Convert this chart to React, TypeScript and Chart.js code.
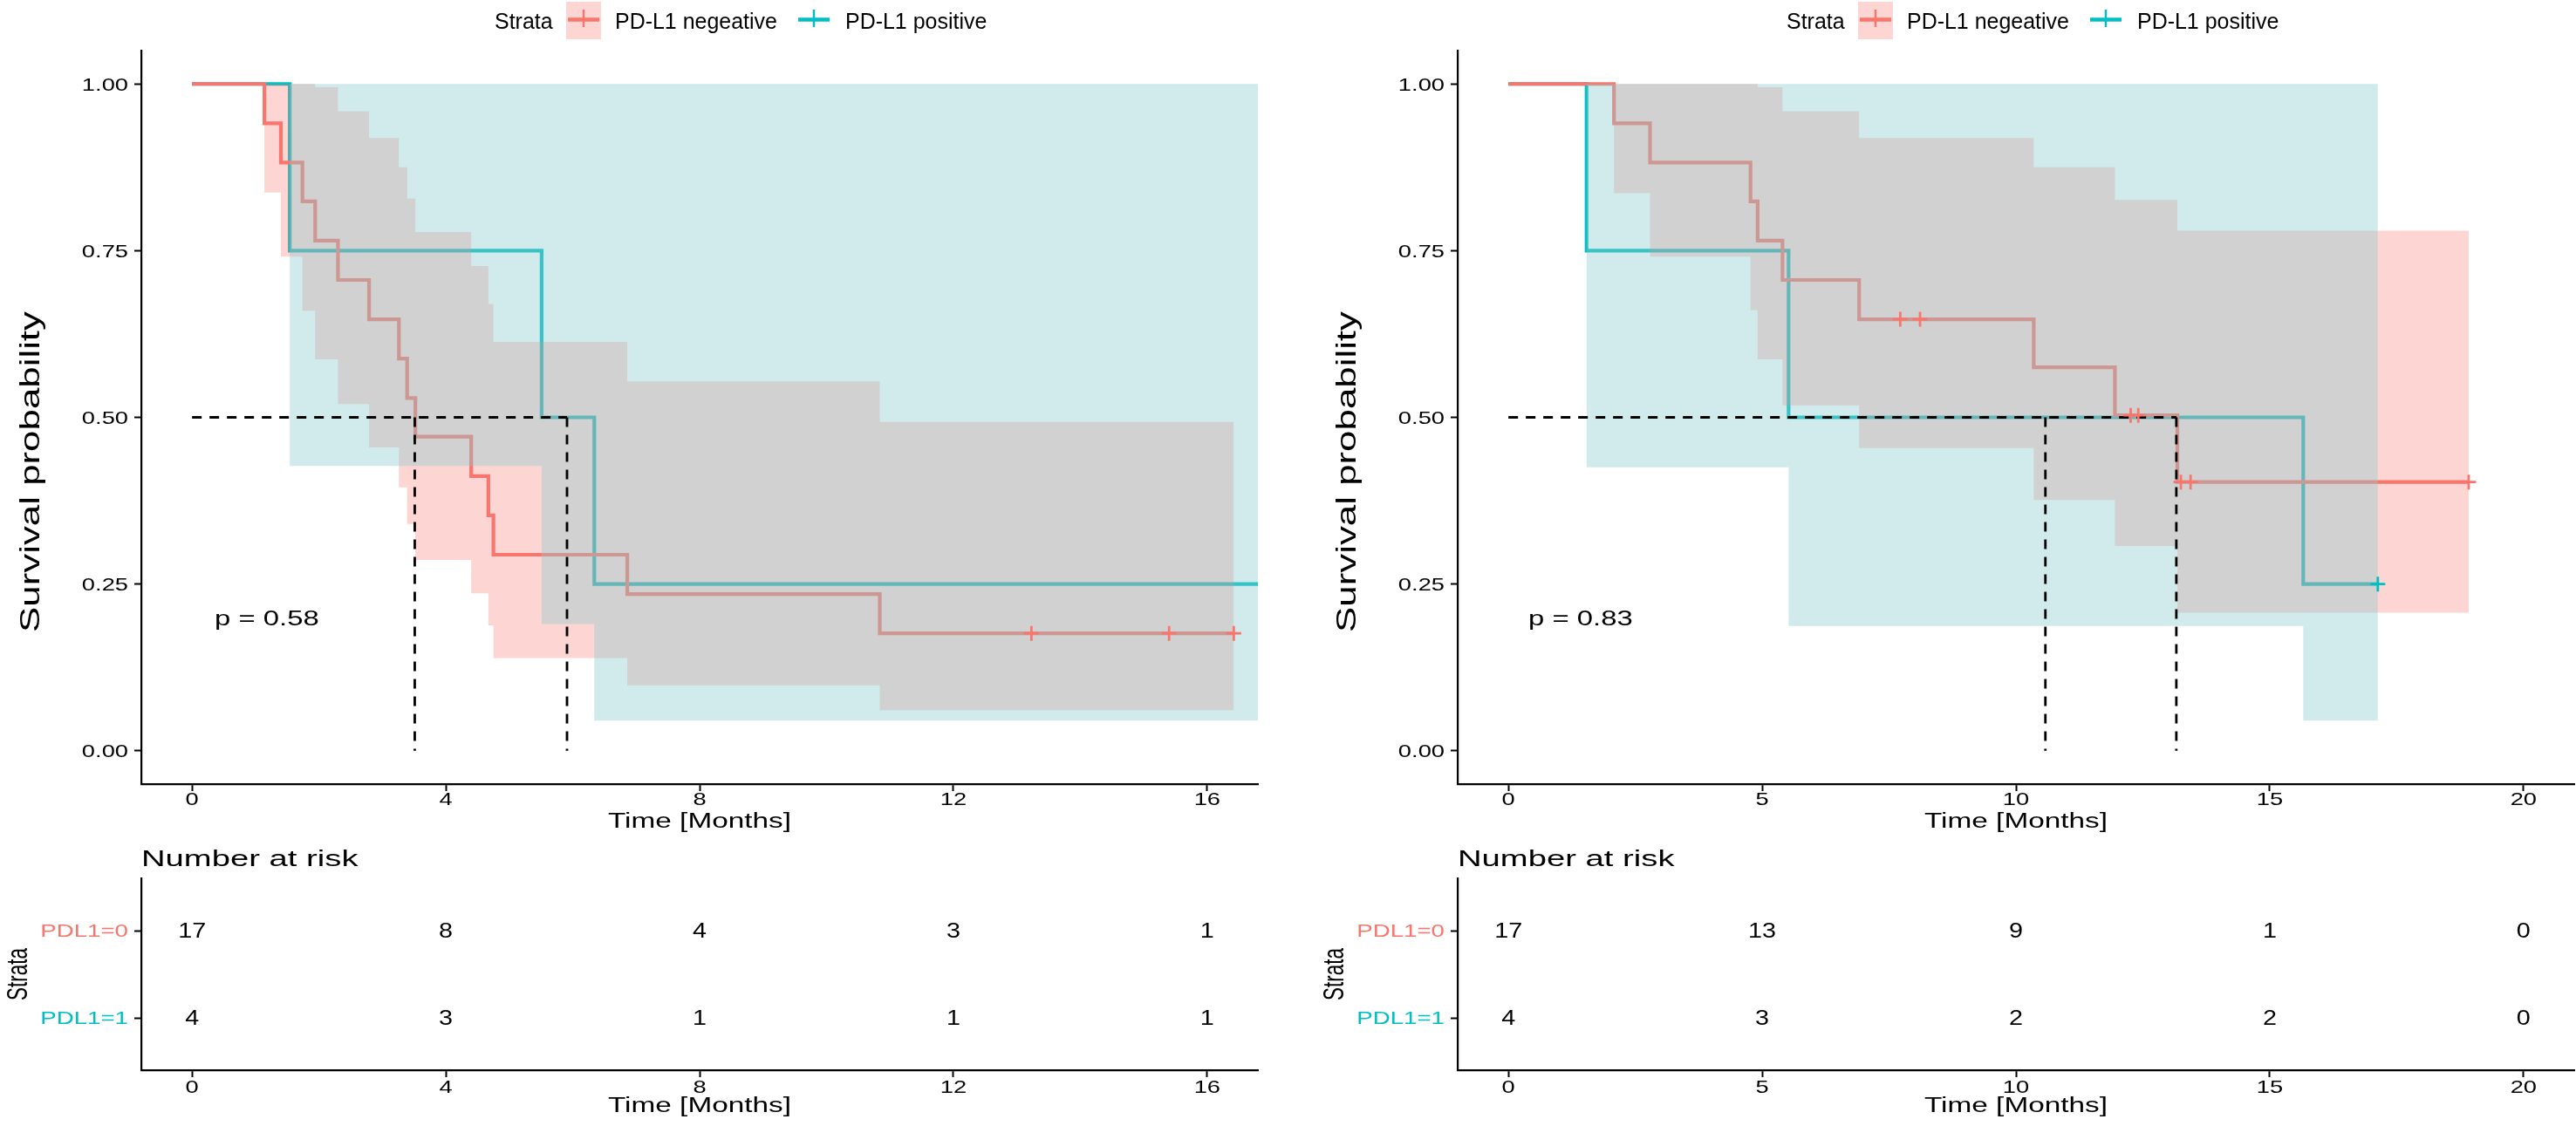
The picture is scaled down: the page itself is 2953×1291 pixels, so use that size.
import React, { useEffect, useRef } from "react";
import { Chart, registerables } from "chart.js";

Chart.register(...registerables);

const RED = "#F8766D";
const TEAL = "#00BFC4";
const PINK_BAND = "rgba(248, 118, 109, 0.3)";
const TEAL_BAND = "rgba(140, 203, 204, 0.4)";
const FONT = '"Liberation Sans", Arial, sans-serif';

const strataLabels = ["PD-L1 negeative", "PD-L1 positive"];
const riskLabels = ["PDL1=0", "PDL1=1"];

// left panel
const ticksA = [0, 4, 8, 12, 16];
const negTimesA = [0, 1.14, 1.4, 1.74, 1.94, 2.3, 2.79, 3.26, 3.39, 3.52, 4.4, 4.67, 4.75, 6.86, 10.84, 16.42];
const negSurvA = [1, 0.941, 0.882, 0.824, 0.765, 0.706, 0.647, 0.588, 0.529, 0.471, 0.412, 0.353, 0.294, 0.235, 0.176, 0.176];
const negUpperA = [1, 1, 1, 1, 0.995, 0.959, 0.919, 0.875, 0.828, 0.778, 0.727, 0.67, 0.613, 0.554, 0.493, 0.493];
const negLowerA = [1, 0.837, 0.741, 0.66, 0.587, 0.52, 0.455, 0.395, 0.34, 0.286, 0.236, 0.188, 0.139, 0.098, 0.061, 0.061];
const negCensorA = [13.23, 15.4, 16.42];
const posTimesA = [0, 1.54, 5.51, 6.34, 16.8];
const posSurvA = [1, 0.75, 0.5, 0.25, 0.25];
const posUpperA = [1, 1, 1, 1, 1];
const posLowerA = [1, 0.427, 0.19, 0.045, 0.045];
const posCensorA: number[] = [];
const mediansA = [3.51, 5.91];
const riskTimesA = [0, 4, 8, 12, 16];
const riskNegA = [17, 8, 4, 3, 1];
const riskPosA = [4, 3, 1, 1, 1];

// right panel
const ticksB = [0, 5, 10, 15, 20];
const negTimesB = [0, 2.08, 2.79, 4.77, 4.91, 5.4, 6.91, 10.35, 11.95, 13.18, 18.92];
const negSurvB = [1, 0.941, 0.882, 0.824, 0.765, 0.706, 0.647, 0.575, 0.503, 0.403, 0.403];
const negUpperB = [1, 1, 1, 1, 0.995, 0.959, 0.919, 0.875, 0.826, 0.78, 0.78];
const negLowerB = [1, 0.836, 0.741, 0.661, 0.587, 0.518, 0.454, 0.376, 0.307, 0.207, 0.207];
const negCensorB = [7.72, 8.11, 12.26, 12.41, 13.25, 13.44, 18.92];
const posTimesB = [0, 1.54, 5.52, 15.66, 17.13];
const posSurvB = [1, 0.75, 0.5, 0.25, 0.25];
const posUpperB = [1, 1, 1, 1, 1];
const posLowerB = [1, 0.425, 0.187, 0.045, 0.045];
const posCensorB = [17.13];
const mediansB = [10.58, 13.16];
const riskTimesB = [0, 5, 10, 15, 20];
const riskNegB = [17, 13, 9, 1, 0];
const riskPosB = [4, 3, 2, 2, 0];

type Pt = { x: number; y: number };

interface Panel {
  xMin: number;
  xMax: number;
  ticks: number[];
  negTimes: number[];
  negSurv: number[];
  negUpper: number[];
  negLower: number[];
  negCensor: number[];
  posTimes: number[];
  posSurv: number[];
  posUpper: number[];
  posLower: number[];
  posCensor: number[];
  medians: number[];
  riskTimes: number[];
  riskNeg: number[];
  riskPos: number[];
  pText: string;
  pX: number;
  legendShift: number;
}

const panelA: Panel = {
  xMin: -0.8, xMax: 16.8, ticks: ticksA,
  negTimes: negTimesA, negSurv: negSurvA, negUpper: negUpperA, negLower: negLowerA, negCensor: negCensorA,
  posTimes: posTimesA, posSurv: posSurvA, posUpper: posUpperA, posLower: posLowerA, posCensor: posCensorA,
  medians: mediansA, riskTimes: riskTimesA, riskNeg: riskNegA, riskPos: riskPosA,
  pText: "p = 0.58", pX: 246, legendShift: 0,
};

const panelB: Panel = {
  xMin: -1, xMax: 21, ticks: ticksB,
  negTimes: negTimesB, negSurv: negSurvB, negUpper: negUpperB, negLower: negLowerB, negCensor: negCensorB,
  posTimes: posTimesB, posSurv: posSurvB, posUpper: posUpperB, posLower: posLowerB, posCensor: posCensorB,
  medians: mediansB, riskTimes: riskTimesB, riskNeg: riskNegB, riskPos: riskPosB,
  pText: "p = 0.83", pX: 243, legendShift: -28,
};

// KM step path: hold each value until the next time
function steps(times: number[], vals: number[]): Pt[] {
  const pts: Pt[] = [];
  times.forEach((t, i) => {
    if (i > 0) pts.push({ x: t, y: vals[i - 1] });
    pts.push({ x: t, y: vals[i] });
  });
  return pts;
}

function survAt(times: number[], vals: number[], t: number) {
  let v = vals[0];
  times.forEach((tt, i) => {
    if (tt <= t) v = vals[i];
  });
  return v;
}

function text(
  ctx: CanvasRenderingContext2D,
  s: string,
  x: number,
  y: number,
  size: number,
  sx: number,
  align: CanvasTextAlign,
  color = "#000",
  rotate = false
) {
  ctx.save();
  ctx.font = `${size}px ${FONT}`;
  ctx.fillStyle = color;
  ctx.textBaseline = "alphabetic";
  ctx.textAlign = align;
  ctx.translate(x, y);
  if (rotate) ctx.rotate(-Math.PI / 2);
  ctx.scale(sx, 1);
  ctx.fillText(s, 0, 0);
  ctx.restore();
}

function legendKey(ctx: CanvasRenderingContext2D, x1: number, x2: number, color: string) {
  ctx.save();
  ctx.strokeStyle = color;
  ctx.lineWidth = 4.5;
  ctx.beginPath();
  ctx.moveTo(x1, 22.5);
  ctx.lineTo(x2, 22.5);
  ctx.stroke();
  ctx.lineWidth = 2.5;
  ctx.beginPath();
  ctx.moveTo((x1 + x2) / 2, 11);
  ctx.lineTo((x1 + x2) / 2, 31);
  ctx.stroke();
  ctx.restore();
}

const axisStyle = {
  grid: {
    display: true,
    drawOnChartArea: false,
    drawTicks: true,
    tickLength: 8,
    tickColor: "#000",
    tickWidth: 2,
  },
  border: { display: true, color: "#000", width: 2.2 },
  ticks: { display: false, autoSkip: false },
};

function kmTextPlugin(p: Panel) {
  return {
    id: "kmText",
    afterDraw(chart: any) {
      const { ctx, chartArea: a } = chart;
      const xs = chart.scales.x;
      const ys = chart.scales.y;
      ys.ticks.forEach((t: any) =>
        text(ctx, t.value.toFixed(2), a.left - 15, ys.getPixelForValue(t.value) + 7.5, 21, 1.3, "right")
      );
      xs.ticks.forEach((t: any) =>
        text(ctx, String(t.value), xs.getPixelForValue(t.value), a.bottom + 24, 21, 1.3, "center")
      );
      text(ctx, "Time [Months]", (a.left + a.right) / 2, a.bottom + 50, 23, 1.45, "center");
      text(ctx, "Survival probability", 45, 541, 32, 1.37, "center", "#000", true);
      text(ctx, p.pText, p.pX, 717, 23, 1.43, "left");

      const s = p.legendShift;
      text(ctx, "Strata", 567 + s, 33, 26, 0.96, "left");
      ctx.fillStyle = PINK_BAND;
      ctx.fillRect(649 + s, 2, 40, 43);
      legendKey(ctx, 651 + s, 687 + s, RED);
      text(ctx, strataLabels[0], 705 + s, 33, 26, 0.96, "left");
      legendKey(ctx, 915 + s, 951 + s, TEAL);
      text(ctx, strataLabels[1], 969 + s, 33, 26, 0.96, "left");
    },
  };
}

function kmConfig(p: Panel): any {
  const invisible = { borderColor: "rgba(0,0,0,0)", borderWidth: 1, pointRadius: 0 };
  const medTop = Math.max(...p.medians);
  const dashed = { borderColor: "#000", borderWidth: 2.8, borderDash: [11, 9], pointRadius: 0, fill: false, order: 3 };
  const datasets: any[] = [
    {
      data: steps(p.posTimes, p.posSurv),
      borderColor: TEAL, borderWidth: 4.2, pointRadius: 0, fill: false, order: 10,
    },
    {
      data: steps(p.negTimes, p.negUpper),
      ...invisible, fill: "+1", backgroundColor: PINK_BAND, order: 9,
    },
    { data: steps(p.negTimes, p.negLower), ...invisible, fill: false, order: 8 },
    {
      data: steps(p.negTimes, p.negSurv),
      borderColor: RED, borderWidth: 4.2, pointRadius: 0, fill: false, order: 7,
    },
    {
      data: steps(p.posTimes, p.posUpper),
      ...invisible, fill: "+1", backgroundColor: TEAL_BAND, order: 6,
    },
    { data: steps(p.posTimes, p.posLower), ...invisible, fill: false, order: 5 },
    { data: [{ x: 0, y: 0.5 }, { x: medTop, y: 0.5 }], ...dashed },
    ...p.medians.map((m) => ({ data: [{ x: m, y: 0.5 }, { x: m, y: 0 }], ...dashed })),
    {
      data: p.negCensor.map((t) => ({ x: t, y: survAt(p.negTimes, p.negSurv, t) })),
      showLine: false, pointStyle: "cross", pointRadius: 8.5, pointBorderWidth: 2.8,
      pointBorderColor: RED, borderColor: RED, order: 2,
    },
    {
      data: p.posCensor.map((t) => ({ x: t, y: survAt(p.posTimes, p.posSurv, t) })),
      showLine: false, pointStyle: "cross", pointRadius: 8.5, pointBorderWidth: 2.8,
      pointBorderColor: TEAL, borderColor: TEAL, order: 1,
    },
  ];
  return {
    type: "line",
    data: { datasets },
    options: {
      responsive: false,
      animation: false,
      devicePixelRatio: 1,
      layout: { autoPadding: false, padding: { left: 162, top: 58, right: 2, bottom: 61 } },
      elements: { line: { tension: 0 } },
      plugins: {
        legend: { display: false },
        tooltip: { enabled: false },
        filler: { drawTime: "beforeDatasetDraw" },
      },
      scales: {
        x: {
          type: "linear", min: p.xMin, max: p.xMax, ...axisStyle,
          afterFit: (s: any) => { s.height = 0; },
          afterBuildTicks: (s: any) => { s.ticks = p.ticks.map((v) => ({ value: v })); },
        },
        y: {
          type: "linear", min: -0.05, max: 1.05, ...axisStyle,
          afterFit: (s: any) => { s.width = 0; },
          afterBuildTicks: (s: any) => { s.ticks = [0, 0.25, 0.5, 0.75, 1].map((v) => ({ value: v })); },
        },
      },
    },
    plugins: [kmTextPlugin(p)],
  };
}

function riskTextPlugin(p: Panel) {
  const colors = [RED, TEAL];
  const rows = [2, 1];
  return {
    id: "riskText",
    afterDraw(chart: any) {
      const { ctx, chartArea: a } = chart;
      const xs = chart.scales.x;
      const ys = chart.scales.y;
      chart.data.datasets.forEach((ds: any, di: number) => {
        const meta = chart.getDatasetMeta(di);
        meta.data.forEach((el: any, i: number) => {
          text(ctx, String(ds.data[i].n), el.x, el.y + 8, 23, 1.25, "center");
        });
        text(ctx, riskLabels[di], a.left - 15, ys.getPixelForValue(rows[di]) + 7.3, 20.5, 1.35, "right", colors[di]);
      });
      text(ctx, "Number at risk", a.left, 33, 26, 1.47, "left");
      text(ctx, "Strata", 31, 157, 33, 0.68, "center", "#000", true);
      xs.ticks.forEach((t: any) =>
        text(ctx, String(t.value), xs.getPixelForValue(t.value), a.bottom + 26, 21, 1.3, "center")
      );
      text(ctx, "Time [Months]", (a.left + a.right) / 2, a.bottom + 48, 23, 1.45, "center");
    },
  };
}

function riskConfig(p: Panel): any {
  return {
    type: "line",
    data: {
      datasets: [
        { data: p.riskTimes.map((t, i) => ({ x: t, y: 2, n: p.riskNeg[i] })), showLine: false, pointRadius: 0 },
        { data: p.riskTimes.map((t, i) => ({ x: t, y: 1, n: p.riskPos[i] })), showLine: false, pointRadius: 0 },
      ],
    },
    options: {
      responsive: false,
      animation: false,
      devicePixelRatio: 1,
      layout: { autoPadding: false, padding: { left: 162, top: 47, right: 2, bottom: 64 } },
      plugins: { legend: { display: false }, tooltip: { enabled: false } },
      scales: {
        x: {
          type: "linear", min: p.xMin, max: p.xMax, ...axisStyle,
          afterFit: (s: any) => { s.height = 0; },
          afterBuildTicks: (s: any) => { s.ticks = p.ticks.map((v) => ({ value: v })); },
        },
        y: {
          type: "linear", min: 0.4, max: 2.6, ...axisStyle,
          afterFit: (s: any) => { s.width = 0; },
          afterBuildTicks: (s: any) => { s.ticks = [1, 2].map((v) => ({ value: v })); },
        },
      },
    },
    plugins: [riskTextPlugin(p)],
  };
}

const ChartCanvas = ({
  config, left, top, width, height,
}: { config: () => any; left: number; top: number; width: number; height: number }) => {
  const canvasRef = useRef<HTMLCanvasElement | null>(null);

  useEffect(() => {
    const ctx = canvasRef.current?.getContext("2d");
    if (!ctx) return;
    const chart = new Chart(ctx, config());
    return () => chart.destroy();
  }, [config]);

  return (
    <canvas
      ref={canvasRef}
      width={width}
      height={height}
      style={{ position: "absolute", left, top, width, height }}
    />
  );
};

const kmA = () => kmConfig(panelA);
const kmB = () => kmConfig(panelB);
const riskA = () => riskConfig(panelA);
const riskB = () => riskConfig(panelB);

export default function App() {
  return (
    <div style={{ position: "absolute", left: 0, top: 0, width: 2953, height: 1291, background: "#fff" }}>
      <ChartCanvas config={kmA} left={0} top={0} width={1444} height={960} />
      <ChartCanvas config={kmB} left={1509} top={0} width={1444} height={960} />
      <ChartCanvas config={riskA} left={0} top={960} width={1444} height={331} />
      <ChartCanvas config={riskB} left={1509} top={960} width={1444} height={331} />
    </div>
  );
}
